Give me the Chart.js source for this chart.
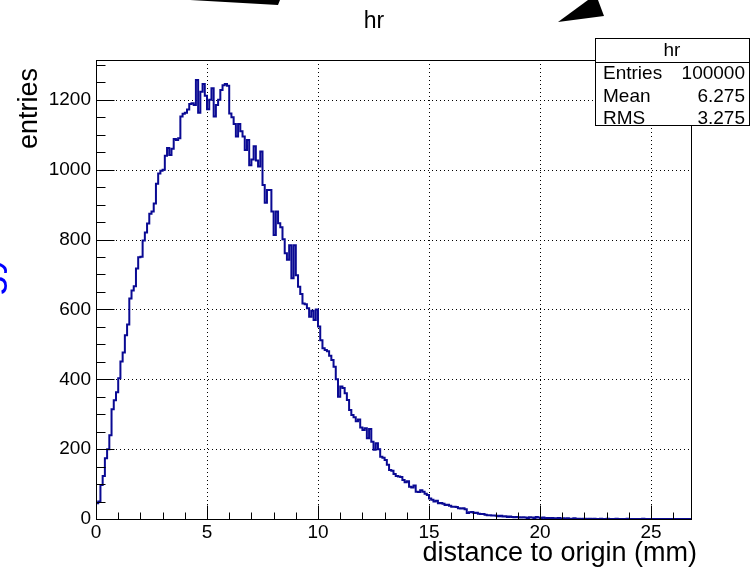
<!DOCTYPE html>
<html>
<head>
<meta charset="utf-8">
<script src="https://cdn.jsdelivr.net/npm/chart.js@4/dist/chart.umd.min.js"></script>
<style>
  html, body { margin: 0; padding: 0; background: #ffffff; }
  #wrap { position: relative; width: 750px; height: 569px; }
  canvas { display: block; }
</style>
</head>
<body>
<div id="wrap"><canvas id="c" width="750" height="569"></canvas></div>
<script>
// ---- data ----
const histTitle = "hr";
const xTitle = "distance to origin (mm)";
const yTitle = "entries";
const binWidth = 0.1;        // mm
const xMin = 0;
const xMax = 26.8;
const yMax = 1314;
const xTicks = [0, 5, 10, 15, 20, 25];
const yTicks = [0, 200, 400, 600, 800, 1000, 1200];
const statLabels = ["Entries", "Mean", "RMS"];
const statValues = ["100000", "6.275", "3.275"];
const counts = [
  20, 45, 50, 97, 123, 174, 200, 240, 314, 340,
  363, 403, 451, 477, 526, 557, 631, 654, 666, 717,
  749, 751, 797, 820, 846, 874, 880, 903, 960, 989,
  997, 1000, 1040, 1062, 1042, 1060, 1088, 1085, 1090, 1152,
  1160, 1163, 1172, 1188, 1190, 1185, 1257, 1163, 1223, 1245,
  1212, 1173, 1200, 1233, 1152, 1185, 1200, 1228, 1242, 1245,
  1240, 1161, 1150, 1131, 1095, 1131, 1110, 1095, 1056, 1085,
  1013, 1029, 1067, 1026, 1009, 1052, 956, 905, 942, 942,
  880, 813, 880, 847, 835, 801, 761, 742, 784, 689,
  784, 698, 665, 644, 617, 615, 603, 579, 596, 570,
  600, 551, 512, 489, 484, 480, 467, 455, 436, 400,
  350, 379, 375, 360, 341, 312, 298, 291, 280, 285,
  262, 255, 260, 231, 258, 221, 198, 217, 200, 178,
  175, 169, 155, 140, 138, 129, 123, 122, 120, 112,
  105, 108, 92, 90, 96, 78, 77, 82, 78, 72,
  69, 59, 55, 50, 52, 45, 46, 44, 40, 41,
  38, 35, 35, 34, 31, 30, 31, 28, 17, 19,
  20, 17, 18, 15, 14, 14, 12, 11, 11, 10,
  10, 9, 8, 9, 7, 8, 6, 7, 6, 5,
  6, 5, 4, 5, 4, 3, 5, 4, 3, 6,
  4, 3, 4, 2, 3, 2, 3, 2, 2, 3,
  1, 2, 1, 2, 1, 1, 2, 1, 1, 0,
  1, 1, 0, 1, 0, 1, 0, 0, 1, 0,
  0, 1, 0, 0, 0, 1, 0, 0, 0, 0,
  1, 0, 0, 0, 0, 0, 0, 1, 0, 0,
  0, 0, 0, 0, 0, 0, 0, 0, 0, 0,
  0, 0, 0, 0, 0, 0, 0, 0
];
const sideText = "Energy / keV";   // cut-off blue text at the left edge of the slide

// ---- build step points (bin left edges + final upper edge) ----
const points = counts.map((v, i) => ({ x: xMin + i * binWidth, y: v }));
points.push({ x: xMin + counts.length * binWidth, y: counts[counts.length - 1] });

const FONT = '"Liberation Sans", Arimo, Arial, Helvetica, sans-serif';

const rootDecor = {
  id: 'rootDecor',
  beforeDatasetsDraw(chart) {
    const { ctx, chartArea: a, scales: { x, y } } = chart;
    ctx.save();
    ctx.strokeStyle = '#000';
    ctx.lineWidth = 1;
    ctx.setLineDash([1, 3]);
    xTicks.forEach(v => {
      if (v <= xMin) return;
      const px = Math.round(x.getPixelForValue(v)) + 0.5;
      ctx.beginPath(); ctx.moveTo(px, a.top); ctx.lineTo(px, a.bottom); ctx.stroke();
    });
    yTicks.forEach(v => {
      if (v <= 0) return;
      const py = Math.round(y.getPixelForValue(v)) + 0.5;
      ctx.beginPath(); ctx.moveTo(a.left, py); ctx.lineTo(a.right, py); ctx.stroke();
    });
    ctx.restore();
  },
  afterDatasetsDraw(chart) {
    const { ctx, chartArea: a, scales: { x, y } } = chart;
    ctx.save();
    ctx.strokeStyle = '#000';
    ctx.lineWidth = 1;
    ctx.setLineDash([]);
    // frame
    const L = Math.round(a.left) + 0.5, R = Math.round(a.right) + 0.5;
    const T = Math.round(a.top) + 0.5, B = Math.round(a.bottom) + 0.5;
    ctx.strokeRect(L, T, R - L, B - T);
    // x ticks (inside)
    const xMajor = 14, xMinor = 7;
    for (let v = xMin; v <= xMax + 1e-9; v += 1) {
      const px = Math.round(x.getPixelForValue(v)) + 0.5;
      const len = (Math.abs(v % 5) < 1e-9) ? xMajor : xMinor;
      ctx.beginPath(); ctx.moveTo(px, B); ctx.lineTo(px, B - len); ctx.stroke();
    }
    // y ticks (inside)
    const yMajor = 18, yMinor = 9;
    for (let v = 50; v <= yMax + 1e-9; v += 50) {
      const py = Math.round(y.getPixelForValue(v)) + 0.5;
      const len = (v % 200 === 0) ? yMajor : yMinor;
      ctx.beginPath(); ctx.moveTo(L, py); ctx.lineTo(L + len, py); ctx.stroke();
    }
    // title
    ctx.fillStyle = '#000';
    ctx.font = '23px ' + FONT;
    ctx.textAlign = 'center';
    ctx.textBaseline = 'middle';
    ctx.fillText(histTitle, 374, 22);
    // axis titles
    ctx.font = '27px ' + FONT;
    ctx.textAlign = 'right';
    ctx.textBaseline = 'alphabetic';
    ctx.fillText(xTitle, 697, 561);
    ctx.save();
    ctx.translate(37, 68);
    ctx.rotate(-Math.PI / 2);
    ctx.textAlign = 'right';
    ctx.fillText(yTitle, 0, 0);
    ctx.restore();
    // stats box
    const bx = 595.5, by = 38.5, bw = 154, bh = 87;
    ctx.fillStyle = '#fff';
    ctx.fillRect(bx, by, bw, bh);
    ctx.strokeRect(bx, by, bw, bh);
    ctx.beginPath(); ctx.moveTo(bx, 62.5); ctx.lineTo(bx + bw, 62.5); ctx.stroke();
    ctx.fillStyle = '#000';
    ctx.font = '19px ' + FONT;
    ctx.textBaseline = 'middle';
    ctx.textAlign = 'center';
    ctx.fillText(histTitle, 672, 51);
    statLabels.forEach((s, i) => {
      const ty = 74 + i * 22.5;
      ctx.textAlign = 'left';
      ctx.fillText(s, 603, ty);
      ctx.textAlign = 'right';
      ctx.fillText(statValues[i], 745, ty);
    });
    // slide decorations (cut-off arrows)
    ctx.fillStyle = '#000';
    ctx.beginPath();
    ctx.moveTo(190, 0); ctx.lineTo(280, 0); ctx.lineTo(278, 5); ctx.closePath(); ctx.fill();
    ctx.beginPath();
    ctx.moveTo(558, 22); ctx.lineTo(604, 16); ctx.lineTo(598, 0); ctx.lineTo(588, 0); ctx.closePath(); ctx.fill();
    // cut-off blue side text
    ctx.save();
    ctx.fillStyle = '#0000ff';
    ctx.font = '40px ' + FONT;
    ctx.translate(-1, 381);
    ctx.rotate(-Math.PI / 2);
    ctx.textAlign = 'left';
    ctx.textBaseline = 'alphabetic';
    ctx.fillText(sideText, 0, 0);
    ctx.restore();
    ctx.restore();
  }
};

new Chart(document.getElementById('c'), {
  type: 'line',
  data: {
    datasets: [{
      data: points,
      stepped: 'after',
      borderColor: '#0a0a93',
      borderWidth: 2,
      pointRadius: 0,
      fill: false,
      tension: 0
    }]
  },
  options: {
    responsive: false,
    animation: false,
    devicePixelRatio: 1,
    layout: { padding: { top: 60, right: 59, left: 0, bottom: 0 } },
    plugins: { legend: { display: false }, title: { display: false }, tooltip: { enabled: false } },
    scales: {
      x: {
        type: 'linear', min: xMin, max: xMax,
        grid: { display: false, drawTicks: false },
        border: { display: false },
        afterBuildTicks: s => { s.ticks = xTicks.map(v => ({ value: v })); },
        afterFit: s => { s.height = 50; },
        ticks: { color: '#000', font: { family: FONT, size: 19 }, padding: 2, maxRotation: 0, autoSkip: false,
                 callback: v => String(v) }
      },
      y: {
        type: 'linear', min: 0, max: yMax,
        grid: { display: false, drawTicks: false },
        border: { display: false },
        afterBuildTicks: s => { s.ticks = yTicks.map(v => ({ value: v })); },
        afterFit: s => { s.width = 96; },
        ticks: { color: '#000', font: { family: FONT, size: 19 }, padding: 5, callback: v => String(v) }
      }
    }
  },
  plugins: [rootDecor]
});
</script>
</body>
</html>
